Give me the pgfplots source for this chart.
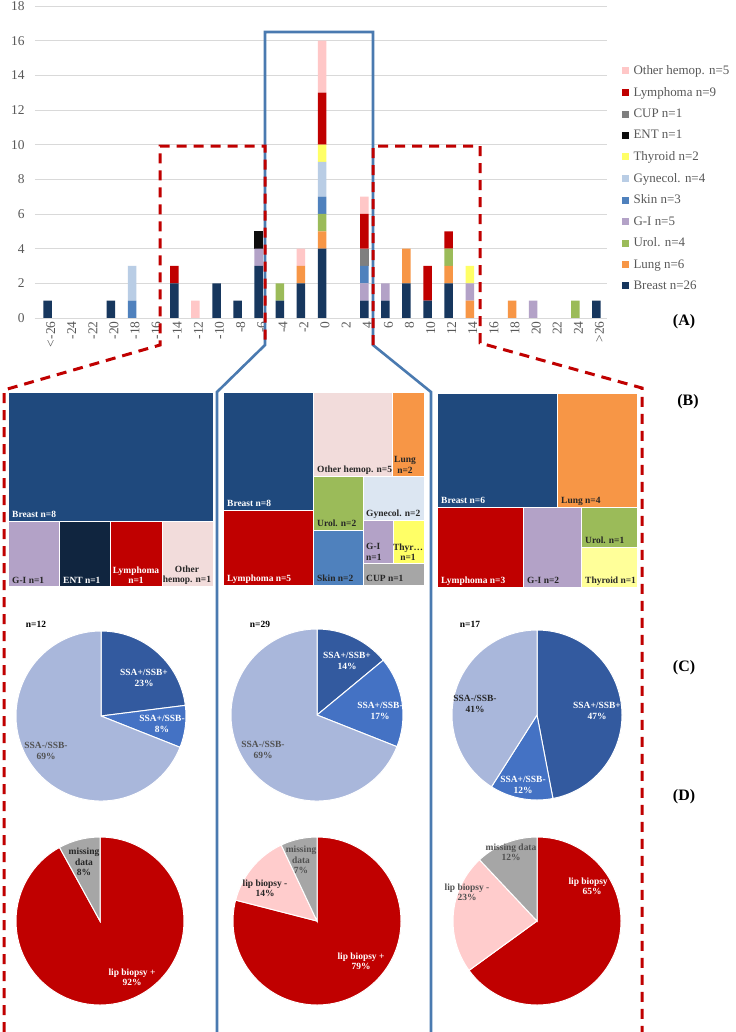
\documentclass[border=0pt]{standalone}
\usepackage{pgfplots}
\pgfplotsset{compat=1.18}
\usepackage{pgfplotstable}
\usepackage{fontspec}
\setmainfont{Liberation Serif}

\definecolor{cBreast}{HTML}{17375E}
\definecolor{cLung}{HTML}{F79646}
\definecolor{cUrol}{HTML}{9BBB59}
\definecolor{cGI}{HTML}{B3A2C7}
\definecolor{cSkin}{HTML}{4F81BD}
\definecolor{cGyn}{HTML}{B9CDE5}
\definecolor{cThy}{HTML}{FFFF66}
\definecolor{cENT}{HTML}{0D0D0D}
\definecolor{cCUP}{HTML}{7F7F7F}
\definecolor{cLym}{HTML}{C00000}
\definecolor{cOth}{HTML}{FFC7C7}
\definecolor{tBreast}{HTML}{1F497D}
\definecolor{tENT}{HTML}{10253F}
\definecolor{tOth}{HTML}{F2DCDB}
\definecolor{tGyn}{HTML}{DCE6F2}
\definecolor{tThy}{HTML}{FFFF66}
\definecolor{tThyB}{HTML}{FFFF99}
\definecolor{tCUP}{HTML}{A6A6A6}
\definecolor{pDark}{HTML}{335A9F}
\definecolor{pMed}{HTML}{4472C4}
\definecolor{pLight}{HTML}{A9B7DB}
\definecolor{pGray}{HTML}{A6A6A6}
\definecolor{pPink}{HTML}{FFCCCC}
\definecolor{gridgray}{HTML}{D9D9D9}
\definecolor{tickgray}{HTML}{595959}
\definecolor{darktxt}{HTML}{262626}
\definecolor{boxred}{HTML}{C00000}
\definecolor{boxblue}{HTML}{4A7AB0}

\pgfplotsset{sqlegend/.style={legend image code/.code={\fill[##1] (0bp,-3.5bp) rectangle (7bp,3.5bp);}}}

\newcommand{\tmfont}{\fontsize{9.5}{10.5}\selectfont\bfseries}
\newcommand{\tm}[5]{\filldraw[fill=#5,draw=white,line width=0.7bp] (axis cs:#1,#2) rectangle (axis cs:#3,#4);}
\newcommand{\lab}[4]{\node[anchor=base west,inner sep=0,text=#3,font=\tmfont] at (axis cs:#1,#2) {#4};}
\newcommand{\clab}[4]{\node[anchor=center,align=center,inner sep=0,text=#3,font=\tmfont] at (axis cs:#1,#2) {#4};}
\newcommand{\pieslice}[6]{\filldraw[fill=#6,draw=white,line width=1bp] (axis cs:#1,#2) -- ++({90-3.6*(#4)}:#3bp) arc[start angle={90-3.6*(#4)}, end angle={90-3.6*(#5)}, radius=#3bp] -- cycle;}

\pgfplotstableread{
x br lu ur gi sk gy th en cu ly ot
0 1 0 0 0 0 0 0 0 0 0 0
1 0 0 0 0 0 0 0 0 0 0 0
2 0 0 0 0 0 0 0 0 0 0 0
3 1 0 0 0 0 0 0 0 0 0 0
4 0 0 0 0 1 2 0 0 0 0 0
5 0 0 0 0 0 0 0 0 0 0 0
6 2 0 0 0 0 0 0 0 0 1 0
7 0 0 0 0 0 0 0 0 0 0 1
8 2 0 0 0 0 0 0 0 0 0 0
9 1 0 0 0 0 0 0 0 0 0 0
10 3 0 0 1 0 0 0 1 0 0 0
11 1 0 1 0 0 0 0 0 0 0 0
12 2 1 0 0 0 0 0 0 0 0 1
13 4 1 1 0 1 2 1 0 0 3 3
14 0 0 0 0 0 0 0 0 0 0 0
15 1 0 0 1 1 0 0 0 1 2 1
16 1 0 0 1 0 0 0 0 0 0 0
17 2 2 0 0 0 0 0 0 0 0 0
18 1 0 0 0 0 0 0 0 0 2 0
19 2 1 1 0 0 0 0 0 0 1 0
20 0 1 0 1 0 0 1 0 0 0 0
21 0 0 0 0 0 0 0 0 0 0 0
22 0 1 0 0 0 0 0 0 0 0 0
23 0 0 0 1 0 0 0 0 0 0 0
24 0 0 0 0 0 0 0 0 0 0 0
25 0 0 1 0 0 0 0 0 0 0 0
26 1 0 0 0 0 0 0 0 0 0 0
}\bardata

\begin{document}
\begin{tikzpicture}
\path[use as bounding box] (0,0) rectangle (736bp,1032bp);
\fill[white] (0,0) rectangle (736bp,1032bp);

% ---------- (A) stacked bar chart ----------
\begin{axis}[
  at={(35bp,714bp)}, anchor=south west, scale only axis,
  width=572bp, height=312bp,
  ybar stacked, bar width=8.5bp,
  xmin=-0.6, xmax=26.5, ymin=0, ymax=18,
  xtick={0,...,26},
  xticklabels={<-26,-24,-22,-20,-18,-16,-14,-12,-10,-8,-6,-4,-2,0,2,4,6,8,10,12,14,16,18,20,22,24,>26},
  ytick={0,2,...,18},
  ymajorgrids, grid style={draw=gridgray, line width=0.8bp},
  axis x line*=bottom, axis y line*=left,
  y axis line style={draw=none},
  x axis line style={draw=gridgray, line width=0.8bp, -},
  major tick length=0,
  tick label style={font=\fontsize{13.5}{14}\selectfont, text=tickgray},
  xticklabel style={rotate=90, anchor=east, yshift=-3bp},
  yticklabel style={xshift=-7bp},
  /pgf/number format/assume math mode=true,
  reverse legend,
  legend style={draw=none, fill=none, at={(1.026,0.822)}, anchor=north west,
    font=\fontsize{13}{15}\selectfont, text=tickgray, legend cell align=left,
    row sep=7.2bp, inner xsep=0pt,
    /tikz/every odd column/.append style={column sep=2.5bp},
    /tikz/every even column/.append style={column sep=0bp}},
]
\addplot[fill=cBreast, draw=none, sqlegend] table[x=x,y=br]{\bardata};
\addplot[fill=cLung, draw=none, sqlegend] table[x=x,y=lu]{\bardata};
\addplot[fill=cUrol, draw=none, sqlegend] table[x=x,y=ur]{\bardata};
\addplot[fill=cGI, draw=none, sqlegend] table[x=x,y=gi]{\bardata};
\addplot[fill=cSkin, draw=none, sqlegend] table[x=x,y=sk]{\bardata};
\addplot[fill=cGyn, draw=none, sqlegend] table[x=x,y=gy]{\bardata};
\addplot[fill=cThy, draw=none, sqlegend] table[x=x,y=th]{\bardata};
\addplot[fill=cENT, draw=none, sqlegend] table[x=x,y=en]{\bardata};
\addplot[fill=cCUP, draw=none, sqlegend] table[x=x,y=cu]{\bardata};
\addplot[fill=cLym, draw=none, sqlegend] table[x=x,y=ly]{\bardata};
\addplot[fill=cOth, draw=none, sqlegend] table[x=x,y=ot]{\bardata};
\legend{Breast n=26, Lung n=6, Urol. n=4, G-I n=5, Skin n=3, Gynecol. n=4, Thyroid n=2, ENT n=1, CUP n=1, Lymphoma n=9, Other hemop. n=5}
\end{axis}

% ---------- overlay: treemaps, pies, boxes ----------
\begin{axis}[
  at={(0,0)}, anchor=south west, scale only axis,
  width=736bp, height=1032bp,
  xmin=0, xmax=736, ymin=0, ymax=1032, y dir=reverse,
  enlargelimits=false, hide axis, clip=false,
]
% left treemap
\tm{8}{392}{213}{521}{tBreast}
\tm{8}{521}{59}{586}{cGI}
\tm{59}{521}{110}{586}{tENT}
\tm{110}{521}{162}{586}{cLym}
\tm{162}{521}{213}{586}{tOth}
\lab{12}{517}{white}{Breast n=8}
\lab{12}{583}{darktxt}{G-I n=1}
\lab{63}{583}{white}{ENT n=1}
\clab{136}{575}{white}{Lymphoma\\n=1}
\clab{187}{575}{darktxt}{Other\\hemop. n=1}
% middle treemap
\tm{223}{392}{313}{510}{tBreast}
\tm{223}{510}{313}{585}{cLym}
\tm{313}{392}{392}{476}{tOth}
\tm{392}{392}{424}{476}{cLung}
\tm{313}{476}{363}{530}{cUrol}
\tm{313}{530}{363}{585}{cSkin}
\tm{363}{476}{424}{520}{tGyn}
\tm{363}{520}{393}{563}{cGI}
\tm{393}{520}{424}{563}{tThy}
\tm{363}{563}{424}{585}{tCUP}
\lab{227}{506}{white}{Breast n=8}
\lab{227}{581}{white}{Lymphoma n=5}
\lab{317}{472}{darktxt}{Other hemop. n=5}
\clab{405}{465}{darktxt}{Lung\\n=2}
\lab{317}{526}{darktxt}{Urol. n=2}
\lab{366}{516}{darktxt}{Gynecol. n=2}
\node[anchor=west,align=left,inner sep=0,text=darktxt,font=\tmfont] at (axis cs:366,552) {G-I\\n=1};
\clab{408}{552}{darktxt}{Thyr…\\n=1}
\lab{317}{581}{darktxt}{Skin n=2}
\lab{366}{581}{darktxt}{CUP n=1}
% right treemap
\tm{437}{393}{557}{507}{tBreast}
\tm{557}{393}{637}{507}{cLung}
\tm{437}{507}{523}{587}{cLym}
\tm{523}{507}{581}{587}{cGI}
\tm{581}{507}{637}{547}{cUrol}
\tm{581}{547}{637}{587}{tThyB}
\lab{441}{503}{white}{Breast n=6}
\lab{561}{503}{darktxt}{Lung n=4}
\lab{441}{583}{white}{Lymphoma n=3}
\lab{527}{583}{darktxt}{G-I n=2}
\lab{585}{543}{darktxt}{Urol. n=1}
\lab{585}{583}{darktxt}{Thyroid n=1}

% (C) pies
\pieslice{101}{716}{85}{0}{23}{pDark}
\pieslice{101}{716}{85}{23}{31}{pMed}
\pieslice{101}{716}{85}{31}{100}{pLight}
\pieslice{317}{715}{86}{0}{14}{pDark}
\pieslice{317}{715}{86}{14}{31}{pMed}
\pieslice{317}{715}{86}{31}{100}{pLight}
\pieslice{537}{715}{85}{0}{47}{pDark}
\pieslice{537}{715}{85}{47}{59}{pMed}
\pieslice{537}{715}{85}{59}{100}{pLight}
\clab{36}{624}{black}{n=12}
\clab{260}{624}{black}{n=29}
\clab{470}{624}{black}{n=17}
\clab{144}{678}{white}{SSA+/SSB+\\23\%}
\clab{162}{724}{white}{SSA+/SSB-\\8\%}
\clab{46}{751}{darktxt!80}{SSA-/SSB-\\69\%}
\clab{347}{661}{white}{SSA+/SSB+\\14\%}
\clab{380}{711}{white}{SSA+/SSB-\\17\%}
\clab{263}{750}{darktxt!80}{SSA-/SSB-\\69\%}
\clab{597}{711}{white}{SSA+/SSB+\\47\%}
\clab{523}{785}{white}{SSA+/SSB-\\12\%}
\clab{475}{704}{darktxt}{SSA-/SSB-\\41\%}

% (D) pies
\pieslice{100}{921}{84}{0}{92}{cLym}
\pieslice{100}{921}{84}{92}{100}{pGray}
\pieslice{317}{921}{84}{0}{79}{cLym}
\pieslice{317}{921}{84}{79}{93}{pPink}
\pieslice{317}{921}{84}{93}{100}{pGray}
\pieslice{537}{921}{84}{0}{65}{cLym}
\pieslice{537}{921}{84}{65}{88}{pPink}
\pieslice{537}{921}{84}{88}{100}{pGray}
\clab{84}{862}{darktxt}{missing\\data\\8\%}
\clab{132}{977}{white}{lip biopsy +\\92\%}
\clab{301}{860}{darktxt!80}{missing\\data\\7\%}
\clab{265}{888}{darktxt}{lip biopsy -\\14\%}
\clab{361}{961}{white}{lip biopsy +\\79\%}
\clab{511}{852}{darktxt!80}{missing data\\12\%}
\clab{467}{892}{darktxt!80}{lip biopsy -\\23\%}
\clab{592}{886}{white}{lip biopsy +\\65\%}

% connecting boxes
\draw[boxblue, line width=2.6bp, line join=miter]
  (axis cs:217,1032) -- (axis cs:217,392) -- (axis cs:265,345) -- (axis cs:265,32)
  -- (axis cs:373,32) -- (axis cs:373,345) -- (axis cs:431,392) -- (axis cs:431,1032);
\draw[boxred, line width=3bp, dash pattern=on 10bp off 7bp]
  (axis cs:4,1032) -- (axis cs:4,390) -- (axis cs:160,345) -- (axis cs:160,146)
  -- (axis cs:265,146) -- (axis cs:265,345);
\draw[boxred, line width=3bp, dash pattern=on 10bp off 7bp]
  (axis cs:373,345) -- (axis cs:373,146) -- (axis cs:480,146) -- (axis cs:480,343)
  -- (axis cs:642,388) -- (axis cs:642,1032);

% panel labels
\node[font=\fontsize{16}{18}\selectfont\bfseries] at (axis cs:684,322) {(A)};
\node[font=\fontsize{16}{18}\selectfont\bfseries] at (axis cs:688,402) {(B)};
\node[font=\fontsize{16}{18}\selectfont\bfseries] at (axis cs:684,668) {(C)};
\node[font=\fontsize{16}{18}\selectfont\bfseries] at (axis cs:684,797) {(D)};
\end{axis}
\end{tikzpicture}
\end{document}
